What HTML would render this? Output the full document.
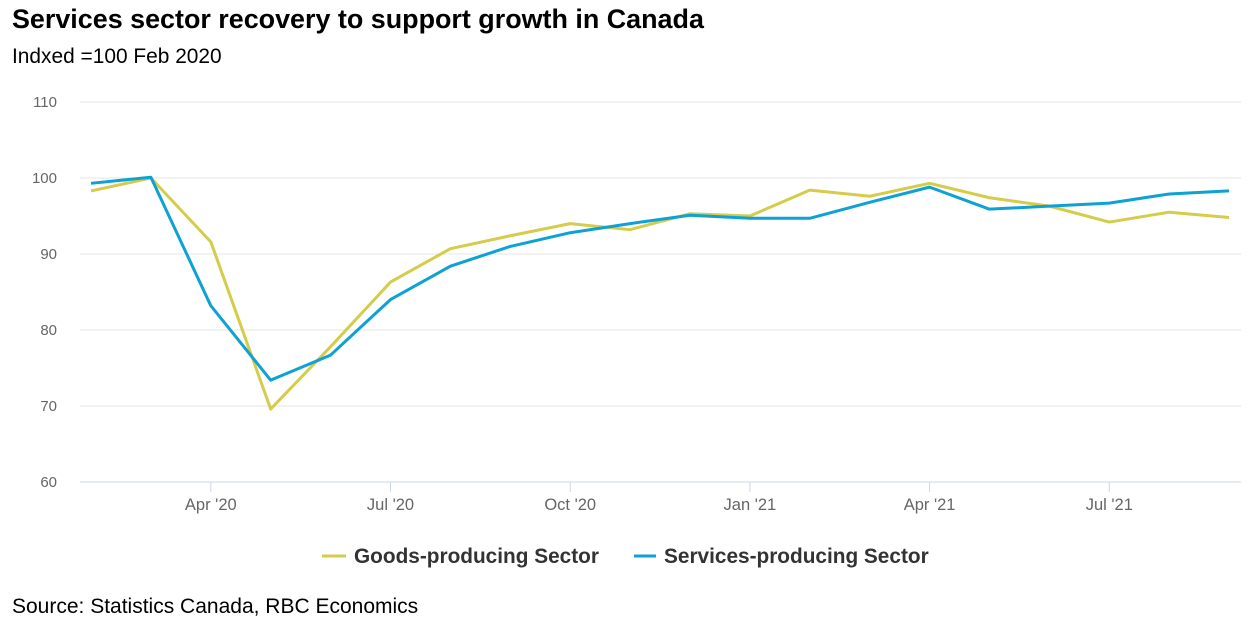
<!DOCTYPE html>
<html><head><meta charset="utf-8"><style>
body{margin:0;background:#fff;font-family:"Liberation Sans",sans-serif;}
#wrap{position:relative;width:1253px;height:627px;overflow:hidden;}
</style></head><body>
<div id="wrap">
<svg id="chart" width="1253" height="627">
<text x="12" y="28" font-size="26.9" font-weight="bold" fill="#000">Services sector recovery to support growth in Canada</text>
<text x="12" y="63" font-size="20.9" fill="#000">Indxed =100 Feb 2020</text>
<text x="12" y="613" font-size="21" fill="#000">Source: Statistics Canada, RBC Economics</text>
<g id="grid"></g><g id="xaxis"></g><g id="series"></g>
<g>
<g><line x1="322" y1="556" x2="346" y2="556" stroke="#d4cc4a" stroke-width="3"/><text x="354" y="563" font-size="20.8" font-weight="bold" fill="#333">Goods-producing Sector</text></g>
<g><line x1="634" y1="556" x2="656" y2="556" stroke="#0da2d3" stroke-width="3"/><text x="664" y="563" font-size="20.8" font-weight="bold" fill="#333">Services-producing Sector</text></g>
</g>
</svg></div>
<script>
const yTicks=[60,70,80,90,100,110];
const xTickLabels=["Apr '20","Jul '20","Oct '20","Jan '21","Apr '21","Jul '21"];
const xTickIdx=[2,5,8,11,14,17];
const goods=[98.3,100,91.6,69.6,77.8,86.3,90.7,92.4,94,93.2,95.3,95,98.4,97.6,99.3,97.4,96.3,94.2,95.5,94.8];
const services=[99.3,100.1,83.2,73.4,76.7,84,88.4,91,92.8,94,95.1,94.7,94.7,96.8,98.8,95.9,96.3,96.7,97.9,98.3];
const NS="http://www.w3.org/2000/svg";
const X=i=>91+i*59.9;
const Y=v=>482-(v-60)*7.6;
function mk(t,a,p){const e=document.createElementNS(NS,t);for(const k in a)e.setAttribute(k,a[k]);p.appendChild(e);return e;}
const grid=document.getElementById('grid');
yTicks.forEach(v=>{
 const l=mk('line',{x1:80,x2:1241,y1:Y(v),y2:Y(v),stroke:v===60?'#ccd6eb':'#e6e6e6','stroke-width':1},grid);
 
 
 const t=mk('text',{x:57,y:Y(v)+5,'font-size':15,fill:'#666','text-anchor':'end'},grid);
 t.textContent=v;
 
 
});
const xa=document.getElementById('xaxis');
xTickIdx.forEach((idx,k)=>{
 const tk=mk('line',{x1:X(idx),x2:X(idx),y1:482,y2:492,stroke:'#ccd6eb'},xa);
 
 
 const t=mk('text',{x:X(idx),y:510,'font-size':16.5,fill:'#666','text-anchor':'middle'},xa);
 t.textContent=xTickLabels[k];
 
 
});
const sg=document.getElementById('series');
[[goods,'#d4cc4a','goods-line'],[services,'#0da2d3','services-line']].forEach(([d,c,n])=>{
 const p=mk('polyline',{points:d.map((v,i)=>X(i)+','+Y(v)).join(' '),fill:'none',stroke:c,'stroke-width':3,'stroke-linejoin':'round'},sg);
 
 
});
</script>
</body></html>
